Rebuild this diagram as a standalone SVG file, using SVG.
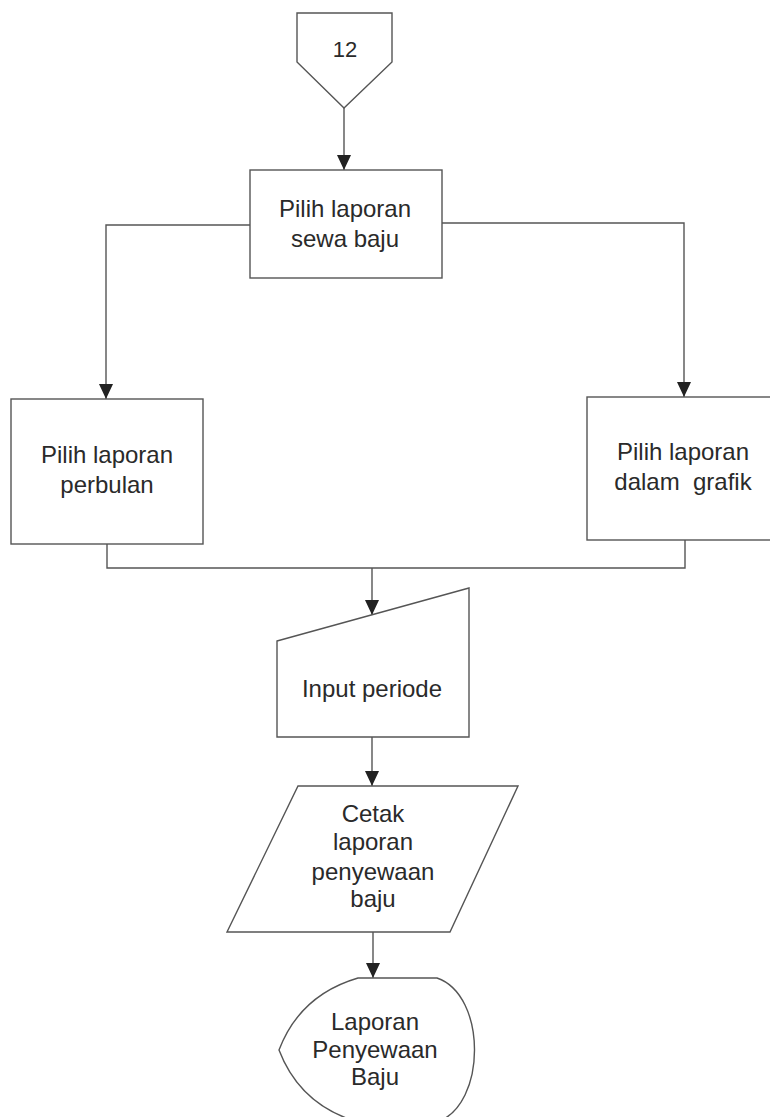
<svg xmlns="http://www.w3.org/2000/svg" width="770" height="1117" viewBox="0 0 770 1117">
<style>
.s{fill:#fff;stroke:#555;stroke-width:1.4}
.c{fill:none;stroke:#555;stroke-width:1.4}
.t{font-family:"Liberation Sans",Arial,sans-serif;font-size:24px;fill:#2a2a2a;text-anchor:middle}
</style>
<defs>
<marker id="ah" markerUnits="userSpaceOnUse" markerWidth="16" markerHeight="14" refX="15" refY="7" orient="auto">
<path d="M0,0 L15,7 L0,14 Z" fill="#222"/>
</marker>
</defs>
<rect width="770" height="1117" fill="#fff"/>
<g id="connectors">
<path class="c" d="M344,108 V170" marker-end="url(#ah)"/>
<path class="c" d="M250,225 H106 V399" marker-end="url(#ah)"/>
<path class="c" d="M442,223 H684 V397" marker-end="url(#ah)"/>
<path class="c" d="M107,544 V568 H685 V540"/>
<path class="c" d="M372,568 V615" marker-end="url(#ah)"/>
<path class="c" d="M372,737 V786" marker-end="url(#ah)"/>
<path class="c" d="M373,932 V978" marker-end="url(#ah)"/>
</g>
<g id="n12">
<path class="s" d="M297,13 H392 V62 L344,108 L297,62 Z"/>
<text class="t" x="345" y="57" style="font-size:22px">12</text>
</g>
<g id="pilihSewa">
<rect class="s" x="250" y="170" width="192" height="108"/>
<text class="t" x="345" y="217">Pilih laporan</text>
<text class="t" x="345" y="247">sewa baju</text>
</g>
<g id="pilihPerbulan">
<rect class="s" x="11" y="399" width="192" height="145"/>
<text class="t" x="107" y="463">Pilih laporan</text>
<text class="t" x="107" y="493">perbulan</text>
</g>
<g id="pilihGrafik">
<rect class="s" x="587" y="397" width="190" height="143"/>
<text class="t" x="683" y="460">Pilih laporan</text>
<text class="t" x="683" y="490" xml:space="preserve">dalam  grafik</text>
</g>
<g id="inputPeriode">
<path class="s" d="M277,641 L469,588 V737 H277 Z"/>
<text class="t" x="372" y="697">Input periode</text>
</g>
<g id="cetak">
<path class="s" d="M298,786 H518 L450,932 H227 Z"/>
<text class="t" x="373" y="822">Cetak</text>
<text class="t" x="373" y="850">laporan</text>
<text class="t" x="373" y="880">penyewaan</text>
<text class="t" x="373" y="907">baju</text>
</g>
<g id="laporanDisplay">
<path class="s" d="M358,978 H437 C487,995 487,1105 437,1122 H358 Q300,1105 279,1050 Q300,995 358,978 Z"/>
<text class="t" x="375" y="1030">Laporan</text>
<text class="t" x="375" y="1058">Penyewaan</text>
<text class="t" x="375" y="1085">Baju</text>
</g>
</svg>
